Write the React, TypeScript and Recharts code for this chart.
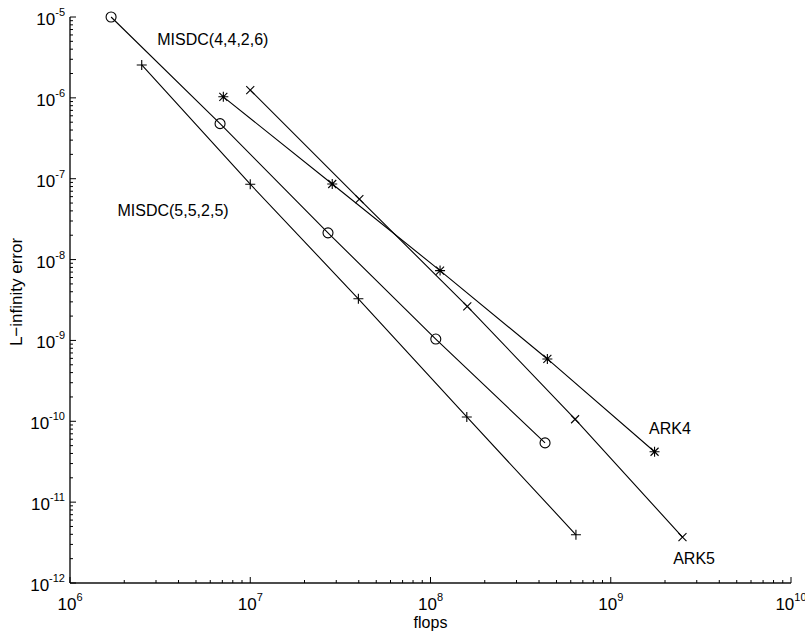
import { LineChart, Line, XAxis, YAxis, ReferenceDot } from "recharts";

const FONT = "'Liberation Sans', Arial, Helvetica, sans-serif";

// values (flops vs L-infinity error)
const misdc4626Flops = [1.69e6, 6.8e6, 2.7e7, 1.07e8, 4.32e8];
const misdc4626Err = [1.0e-5, 4.8e-7, 2.14e-8, 1.04e-9, 5.4e-11];
const misdc5525Flops = [2.5e6, 1.0e7, 3.98e7, 1.59e8, 6.41e8];
const misdc5525Err = [2.55e-6, 8.55e-8, 3.27e-9, 1.13e-10, 3.95e-12];
const ark4Flops = [7.09e6, 2.85e7, 1.13e8, 4.45e8, 1.75e9];
const ark4Err = [1.03e-6, 8.6e-8, 7.3e-9, 5.9e-10, 4.2e-11];
const ark5Flops = [1.0e7, 4.03e7, 1.6e8, 6.34e8, 2.5e9];
const ark5Err = [1.25e-6, 5.6e-8, 2.64e-9, 1.06e-10, 3.7e-12];

const labelText = ["MISDC(4,4,2,6)", "MISDC(5,5,2,5)", "ARK4", "ARK5"];
const labelFlops = [6.2e6, 3.73e6, 2.13e9, 2.9e9];
const labelErr = [5.2e-6, 4.1e-8, 8.2e-11, 2.0e-12];

const xDecades = [1e6, 1e7, 1e8, 1e9, 1e10];
const yDecades = [1e-12, 1e-11, 1e-10, 1e-9, 1e-8, 1e-7, 1e-6, 1e-5];
const minorSteps = [2, 3, 4, 5, 6, 7, 8, 9];

const withMinors = (decades: number[]) => {
  const out: number[] = [];
  decades.forEach((d, i) => {
    out.push(d);
    if (i < decades.length - 1) minorSteps.forEach((m) => out.push(m * d));
  });
  return out;
};
const xTicks = withMinors(xDecades);
const yTicks = withMinors(yDecades);

const toPoints = (xs: number[], ys: number[]) => xs.map((x, i) => ({ x, y: ys[i] }));

const series = [
  { name: "MISDC(4,4,2,6)", data: toPoints(misdc4626Flops, misdc4626Err), marker: "circle" },
  { name: "MISDC(5,5,2,5)", data: toPoints(misdc5525Flops, misdc5525Err), marker: "plus" },
  { name: "ARK4", data: toPoints(ark4Flops, ark4Err), marker: "star" },
  { name: "ARK5", data: toPoints(ark5Flops, ark5Err), marker: "cross" },
];

const AXIS = { stroke: "#111", strokeWidth: 1.4 };

const isDecade = (v: number) => Math.abs(Math.log10(v) - Math.round(Math.log10(v))) < 1e-6;
const expOf = (v: number) => Math.round(Math.log10(v));

function Marker({ cx, cy, kind }: any) {
  if (cx == null || cy == null) return null;
  const s = 5;
  const d = 4;
  const st = { stroke: "#000", strokeWidth: 1.1, fill: "none" };
  if (kind === "circle") return <circle cx={cx} cy={cy} r={5} {...st} />;
  const plus = `M${cx - s},${cy}H${cx + s}M${cx},${cy - s}V${cy + s}`;
  const cross = `M${cx - d},${cy - d}L${cx + d},${cy + d}M${cx - d},${cy + d}L${cx + d},${cy - d}`;
  if (kind === "plus") return <path d={plus} {...st} />;
  if (kind === "cross") return <path d={cross} {...st} />;
  return <path d={plus + cross} {...st} />;
}

function BottomTick({ x, y, payload }: any) {
  const major = isDecade(payload.value);
  return (
    <g>
      <line x1={x} x2={x} y1={y} y2={y - (major ? 6 : 3)} stroke="#000" />
      {major && (
        <text x={x} y={y + 27} textAnchor="middle" fontFamily={FONT} fontSize={17} fill="#000">
          10<tspan dy={-9} fontSize={11}>{expOf(payload.value)}</tspan>
        </text>
      )}
    </g>
  );
}

function TopTick({ x, y, payload }: any) {
  const major = isDecade(payload.value);
  return <line x1={x} x2={x} y1={y} y2={y + (major ? 6 : 3)} stroke="#000" />;
}

function LeftTick({ x, y, payload }: any) {
  const major = isDecade(payload.value);
  return (
    <g>
      <line x1={x} x2={x + (major ? 6 : 3)} y1={y} y2={y} stroke="#000" />
      {major && (
        <text x={x - 5} y={y + 8} textAnchor="end" fontFamily={FONT} fontSize={17} fill="#000">
          10<tspan dy={-9} fontSize={11}>{"-" + Math.abs(expOf(payload.value))}</tspan>
        </text>
      )}
    </g>
  );
}

function RightTick({ x, y, payload }: any) {
  const major = isDecade(payload.value);
  return <line x1={x} x2={x - (major ? 6 : 3)} y1={y} y2={y} stroke="#000" />;
}

export default function App() {
  return (
    <div style={{ position: "absolute", left: 0, top: 0, width: 805, height: 633, background: "#fff" }}>
      <LineChart width={805} height={633} margin={{ top: 17, right: 14, bottom: 0, left: 0 }}>
        <XAxis
          xAxisId="b"
          dataKey="x"
          type="number"
          scale="log"
          domain={[1e6, 1e10]}
          ticks={xTicks}
          interval={0}
          height={50}
          tickSize={0}
          tickMargin={0}
          axisLine={AXIS}
          tick={<BottomTick />}
          label={{
            content: ({ viewBox }: any) => (
              <text
                x={viewBox.x + viewBox.width / 2}
                y={viewBox.y + 45}
                textAnchor="middle"
                fontFamily={FONT}
                fontSize={16}
                fill="#000"
              >
                flops
              </text>
            ),
          }}
        />
        <XAxis
          xAxisId="t"
          orientation="top"
          type="number"
          scale="log"
          domain={[1e6, 1e10]}
          ticks={xTicks}
          interval={0}
          height={0}
          tickSize={0}
          tickMargin={0}
          axisLine={AXIS}
          tick={<TopTick />}
        />
        <YAxis
          yAxisId="l"
          type="number"
          scale="log"
          domain={[1e-12, 1e-5]}
          ticks={yTicks}
          interval={0}
          width={70}
          tickSize={0}
          tickMargin={0}
          axisLine={AXIS}
          tick={<LeftTick />}
          label={{
            content: ({ viewBox }: any) => {
              const cy = viewBox.y + viewBox.height / 2;
              return (
                <text
                  transform={`translate(${viewBox.x + 22},${cy - 8}) rotate(-90)`}
                  textAnchor="middle"
                  fontFamily={FONT}
                  fontSize={17}
                  fill="#000"
                >
                  L−infinity error
                </text>
              );
            },
          }}
        />
        <YAxis
          yAxisId="r"
          orientation="right"
          type="number"
          scale="log"
          domain={[1e-12, 1e-5]}
          ticks={yTicks}
          interval={0}
          width={0}
          tickSize={0}
          tickMargin={0}
          axisLine={AXIS}
          tick={<RightTick />}
        />
        {series.map((s) => (
          <Line
            key={s.name}
            xAxisId="b"
            yAxisId="l"
            data={s.data}
            dataKey="y"
            type="linear"
            stroke="#000"
            strokeWidth={1.1}
            isAnimationActive={false}
            activeDot={false}
            dot={(p: any) => <Marker key={`${s.name}-${p.index}`} cx={p.cx} cy={p.cy} kind={s.marker} />}
          />
        ))}
        {labelText.map((t, i) => (
          <ReferenceDot
            key={t}
            xAxisId="b"
            yAxisId="l"
            x={labelFlops[i]}
            y={labelErr[i]}
            ifOverflow="visible"
            shape={(p: any) => (
              <text
                x={p.cx}
                y={p.cy}
                textAnchor="middle"
                dominantBaseline="central"
                fontFamily={FONT}
                fontSize={16}
                fill="#000"
              >
                {t}
              </text>
            )}
          />
        ))}
      </LineChart>
    </div>
  );
}
